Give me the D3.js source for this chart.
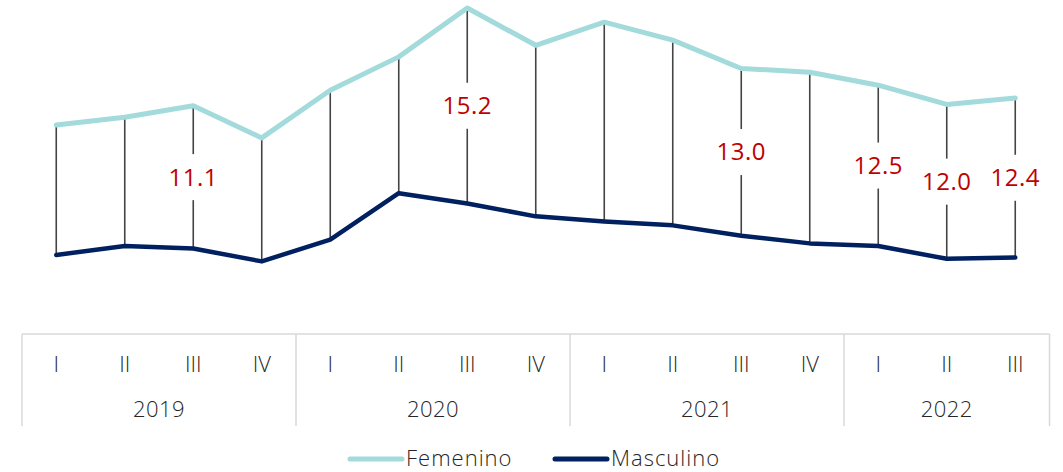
<!DOCTYPE html>
<html>
<head>
<meta charset="utf-8">
<script src="https://cdn.jsdelivr.net/npm/d3@7"></script>
<style>
  body { margin: 0; background: #fff; }
  text { font-family: "Open Sans", "Noto Sans", sans-serif; }
</style>
</head>
<body>
<div id="chart"></div>
<script>
// periods (quarter + year)
const years = ["2019", "2020", "2021", "2022"];
const quarterLabels = ["I", "II", "III", "IV", "I", "II", "III", "IV", "I", "II", "III", "IV", "I", "II", "III"];
const periodYears = ["2019", "2019", "2019", "2019", "2020", "2020", "2020", "2020",
  "2021", "2021", "2021", "2021", "2022", "2022", "2022"];

// series values
const femenino = [19.2, 19.8, 20.7, 18.2, 21.9, 24.5, 28.3, 25.4, 27.2, 25.8, 23.6, 23.3, 22.3, 20.8, 21.3];
const masculino = [9.1, 9.8, 9.6, 8.6, 10.3, 13.9, 13.1, 12.1, 11.7, 11.4, 10.6, 10.0, 9.8, 8.8, 8.9];

// which periods carry the gap label
const labelledIdx = [2, 6, 10, 12, 13, 14];

const width = 1063, height = 472;
const colFem = "#a3dadb", colMasc = "#002060";

const svg = d3.select("#chart").append("svg")
  .attr("width", width)
  .attr("height", height);

const keys = quarterLabels.map((q, i) => periodYears[i] + "-" + q);

const x = d3.scaleBand()
  .domain(keys)
  .range([22, 1049.5])
  .paddingInner(0)
  .paddingOuter(0);

const y = d3.scaleLinear()
  .domain([0, 28.3])
  .range([372, 8]);

const cx = i => x(keys[i]) + x.bandwidth() / 2;

// connectors between the two series
svg.append("g")
  .selectAll("line")
  .data(keys)
  .join("line")
  .attr("x1", (d, i) => cx(i))
  .attr("x2", (d, i) => cx(i))
  .attr("y1", (d, i) => y(femenino[i]))
  .attr("y2", (d, i) => y(masculino[i]))
  .attr("stroke", "#444")
  .attr("stroke-width", 1.6);

const line = d3.line()
  .x((d, i) => cx(i))
  .y(d => y(d));

svg.append("path")
  .datum(femenino)
  .attr("d", line)
  .attr("fill", "none")
  .attr("stroke", colFem)
  .attr("stroke-width", 5)
  .attr("stroke-linejoin", "round")
  .attr("stroke-linecap", "round");

svg.append("path")
  .datum(masculino)
  .attr("d", line)
  .attr("fill", "none")
  .attr("stroke", colMasc)
  .attr("stroke-width", 4.5)
  .attr("stroke-linejoin", "round")
  .attr("stroke-linecap", "round");

// gap labels
const fmt = d3.format(".1f");
const lab = svg.append("g")
  .selectAll("g")
  .data(labelledIdx)
  .join("g")
  .attr("transform", i => `translate(${cx(i)},${(y(femenino[i]) + y(masculino[i])) / 2})`);

lab.append("rect")
  .attr("x", -31)
  .attr("y", -23)
  .attr("width", 62)
  .attr("height", 46)
  .attr("fill", "#fff");

lab.append("text")
  .attr("text-anchor", "middle")
  .attr("dy", "0.35em")
  .attr("font-size", 24)
  .attr("letter-spacing", 0.5)
  .attr("fill", "#c00000")
  .text(i => fmt(femenino[i] - masculino[i]));

// category axis box
const axisTop = 334, axisBottom = 426;
const grid = svg.append("g").attr("stroke", "#d9d9d9").attr("stroke-width", 1.5);

grid.append("line")
  .attr("x1", x.range()[0]).attr("x2", x.range()[1])
  .attr("y1", axisTop).attr("y2", axisTop);

const yearStart = years.map(yr => keys.findIndex((k, i) => periodYears[i] === yr));
const bounds = yearStart.map(i => x(keys[i])).concat([x.range()[1]]);

grid.selectAll(".div")
  .data(bounds)
  .join("line")
  .attr("x1", d => d).attr("x2", d => d)
  .attr("y1", axisTop).attr("y2", axisBottom);

svg.append("g")
  .selectAll("text")
  .data(quarterLabels)
  .join("text")
  .attr("x", (d, i) => cx(i))
  .attr("y", 372)
  .attr("text-anchor", "middle")
  .attr("font-size", 22)
  .attr("font-weight", 300)
  .attr("fill", "#262626")
  .text(d => d);

svg.append("g")
  .selectAll("text")
  .data(years)
  .join("text")
  .attr("x", (d, j) => (bounds[j] + bounds[j + 1]) / 2)
  .attr("y", 417)
  .attr("text-anchor", "middle")
  .attr("font-size", 22)
  .attr("font-weight", 300)
  .attr("letter-spacing", 0.5)
  .attr("fill", "#262626")
  .text(d => d);

// legend
const legendItems = [
  { name: "Femenino", color: colFem, x: 350 },
  { name: "Masculino", color: colMasc, x: 555 }
];

const leg = svg.append("g")
  .selectAll("g")
  .data(legendItems)
  .join("g")
  .attr("transform", d => `translate(${d.x},459)`);

leg.append("line")
  .attr("x1", 0).attr("x2", 52)
  .attr("stroke", d => d.color)
  .attr("stroke-width", 5)
  .attr("stroke-linecap", "round");

leg.append("text")
  .attr("x", 56)
  .attr("y", 7)
  .attr("font-size", 22)
  .attr("font-weight", 300)
  .attr("letter-spacing", 1)
  .attr("fill", "#262626")
  .text(d => d.name);
</script>
</body>
</html>
